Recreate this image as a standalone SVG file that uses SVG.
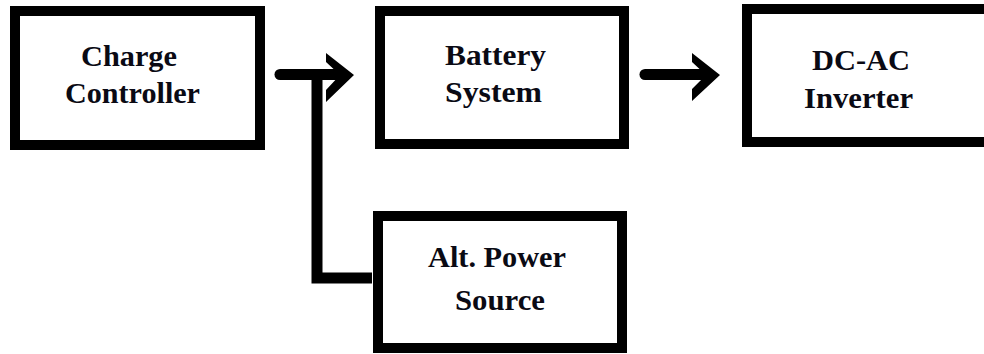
<svg xmlns="http://www.w3.org/2000/svg" width="984" height="354" viewBox="0 0 984 354">
<style>
.box{fill:#fff;stroke:#000;stroke-width:10}
.lbl{font-family:"Liberation Serif","Times New Roman",serif;font-weight:bold;font-size:29px;fill:#0a0a14;text-anchor:middle}
.wire{fill:none;stroke:#000;stroke-width:11;stroke-linecap:round;stroke-linejoin:miter}
.head{fill:#000}
</style>
<rect width="984" height="354" fill="#fff"/>
<g id="charge-controller">
<rect class="box" x="15" y="11" width="245" height="134"/>
<text class="lbl" x="129" y="66" textLength="96" lengthAdjust="spacingAndGlyphs">Charge</text>
<text class="lbl" x="132.5" y="103" textLength="135" lengthAdjust="spacingAndGlyphs">Controller</text>
</g>
<g id="battery-system">
<rect class="box" x="380" y="11" width="244" height="133"/>
<text class="lbl" x="495.5" y="65" textLength="101" lengthAdjust="spacingAndGlyphs">Battery</text>
<text class="lbl" x="493.5" y="102" textLength="97" lengthAdjust="spacingAndGlyphs">System</text>
</g>
<g id="dc-ac-inverter">
<rect class="box" x="747" y="9" width="260" height="133"/>
<text class="lbl" x="861" y="70" textLength="98" lengthAdjust="spacingAndGlyphs">DC-AC</text>
<text class="lbl" x="858.5" y="108" textLength="109" lengthAdjust="spacingAndGlyphs">Inverter</text>
</g>
<g id="alt-power-source">
<rect class="box" x="378" y="216" width="244" height="132"/>
<text class="lbl" x="497" y="267" textLength="138" lengthAdjust="spacingAndGlyphs">Alt. Power</text>
<text class="lbl" x="500" y="310" textLength="90" lengthAdjust="spacingAndGlyphs">Source</text>
</g>
<g id="connectors">
<path class="wire" d="M280,74.5 H338"/>
<path class="head" d="M326,53 L354,75 L326,102 L326,90 L340,75 L326,62 Z"/>
<path class="wire" d="M317,74.5 V278 H372" style="stroke-linecap:butt"/>
<path class="wire" d="M645,74.5 H704"/>
<path class="head" d="M692,53 L720,75 L692,101 L692,89 L706,75 L692,62 Z"/>
</g>
</svg>
